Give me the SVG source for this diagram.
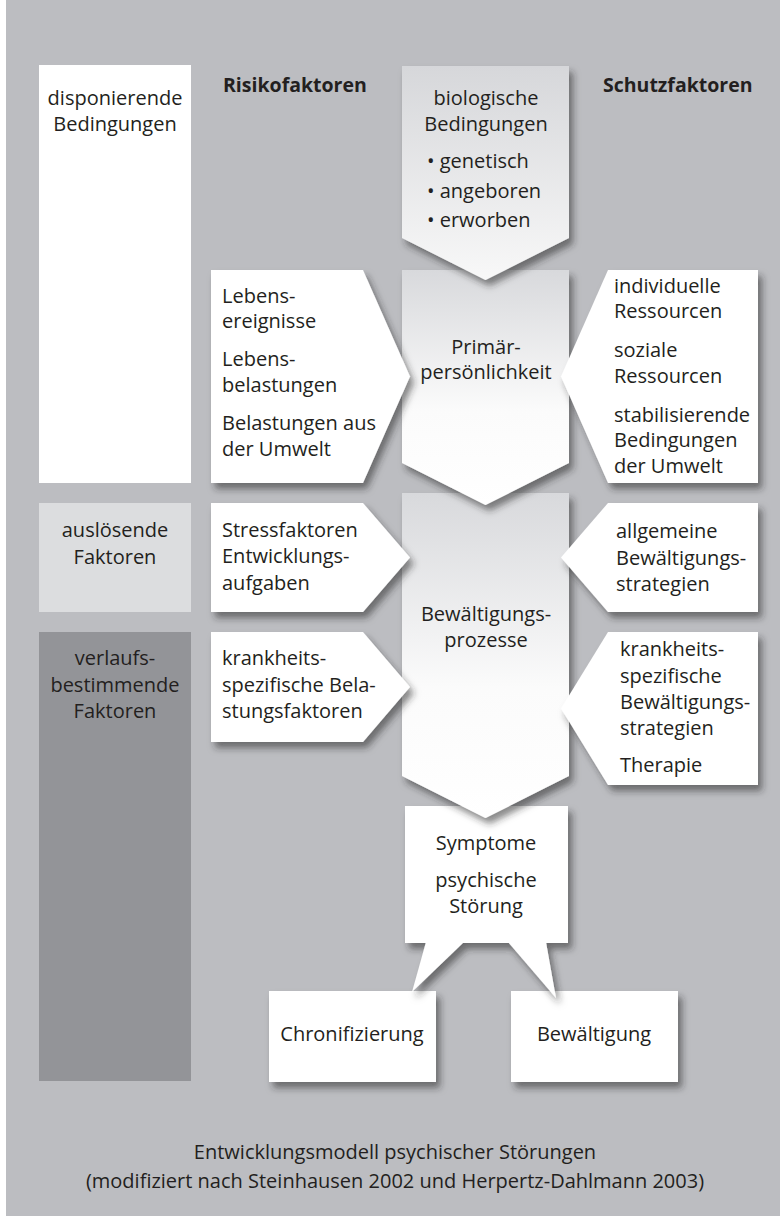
<svg xmlns="http://www.w3.org/2000/svg" width="780" height="1216" viewBox="0 0 780 1216">
<defs>
<style>
text{font-family:"Open Sans","Liberation Sans",sans-serif;font-size:20px;fill:#231F20}
.c{text-anchor:middle}
.h{font-weight:bold;font-size:19.5px}
.w{fill:#FFFFFF}
.sh{filter:url(#sh)}
</style>
<filter id="sh" x="-20%" y="-20%" width="150%" height="150%">
<feDropShadow dx="4" dy="6" stdDeviation="3.5" flood-color="#2a2a2a" flood-opacity="0.55"/>
</filter>
<linearGradient id="gBio" x1="0" y1="0" x2="0" y2="1">
<stop offset="0" stop-color="#D6D7DA"/>
<stop offset="1" stop-color="#F8F8F8"/>
</linearGradient>
<linearGradient id="gMid" x1="0" y1="0" x2="0" y2="1">
<stop offset="0" stop-color="#D8D9DC"/>
<stop offset="0.6" stop-color="#FBFBFB"/>
<stop offset="1" stop-color="#FFFFFF"/>
</linearGradient>
</defs>
<rect x="0" y="0" width="780" height="1216" fill="#FFFFFF"/>
<rect x="6" y="0" width="774" height="1216" fill="#BCBDC1"/>

<g id="node-disponierende">
<rect x="39" y="65" width="152" height="418" fill="#FFFFFF"/>
<text class="c" x="115" y="105">disponierende</text>
<text class="c" x="115" y="131">Bedingungen</text>
</g>
<g id="node-ausloesende">
<rect x="39" y="503" width="152" height="109" fill="#DCDDDF"/>
<text class="c" x="115" y="537">auslösende</text>
<text class="c" x="115" y="564">Faktoren</text>
</g>
<g id="node-verlauf">
<rect x="39" y="632" width="152" height="449" fill="#939498"/>
<text class="c" x="115" y="665">verlaufs-</text>
<text class="c" x="115" y="692">bestimmende</text>
<text class="c" x="115" y="718">Faktoren</text>
</g>
<g id="header-risiko"><text class="h" x="223" y="92">Risikofaktoren</text></g>
<g id="header-schutz"><text class="h" x="603" y="92">Schutzfaktoren</text></g>

<g id="node-chronifizierung">
<rect class="w sh" x="269" y="991" width="167" height="91"/>
<text class="c" x="352" y="1041">Chronifizierung</text>
</g>
<g id="node-bewaeltigung">
<rect class="w sh" x="511" y="991" width="167" height="91"/>
<text class="c" x="594" y="1041">Bewältigung</text>
</g>

<g id="node-symptome">
<g class="sh">
<rect class="w" x="405" y="806" width="163" height="137"/>
<g id="connectors">
<polygon class="w" points="426,942 464,942 412,992"/>
<polygon class="w" points="508,942 546,942 556,998"/>
</g>
</g>
<text class="c" x="486" y="850">Symptome</text>
<text class="c" x="486" y="887">psychische</text>
<text class="c" x="486" y="913">Störung</text>
</g>

<g id="node-bewaeltigungsprozesse">
<polygon class="sh" fill="url(#gMid)" points="402,493 569,493 569,776 485.5,818 402,776"/>
<text class="c" x="486" y="621">Bewältigungs-</text>
<text class="c" x="486" y="647">prozesse</text>
</g>
<g id="node-primaer">
<polygon class="sh" fill="url(#gMid)" points="402,270 569,270 569,463 485.5,505 402,463"/>
<text class="c" x="486" y="354">Primär-</text>
<text class="c" x="486" y="379">persönlichkeit</text>
</g>
<g id="node-biologisch">
<polygon class="sh" fill="url(#gBio)" points="402,66 569,66 569,238 485.5,280 402,238"/>
<text class="c" x="486" y="105">biologische</text>
<text class="c" x="486" y="131">Bedingungen</text>
<text x="427" y="168">• genetisch</text>
<text x="427" y="198">• angeboren</text>
<text x="427" y="227">• erworben</text>
</g>

<g id="node-lebensereignisse">
<polygon class="w sh" points="211,270 363,270 410,376.5 363,483 211,483"/>
<text x="222" y="303">Lebens-</text>
<text x="222" y="328">ereignisse</text>
<text x="222" y="366">Lebens-</text>
<text x="222" y="392">belastungen</text>
<text x="222" y="430">Belastungen aus</text>
<text x="222" y="456">der Umwelt</text>
</g>
<g id="node-stressfaktoren">
<polygon class="w sh" points="211,503 363,503 410,557.5 363,612 211,612"/>
<text x="222" y="537">Stressfaktoren</text>
<text x="222" y="563">Entwicklungs-</text>
<text x="222" y="590">aufgaben</text>
</g>
<g id="node-belastungsfaktoren">
<polygon class="w sh" points="211,632 363,632 410,687 363,742 211,742"/>
<text x="222" y="665">krankheits-</text>
<text x="222" y="692">spezifische Bela-</text>
<text x="222" y="718">stungsfaktoren</text>
</g>

<g id="node-ressourcen">
<polygon class="w sh" points="608,270 758,270 758,483 608,483 561,376.5"/>
<text x="614" y="293">individuelle</text>
<text x="614" y="318">Ressourcen</text>
<text x="614" y="357">soziale</text>
<text x="614" y="383">Ressourcen</text>
<text x="614" y="422">stabilisierende</text>
<text x="614" y="447">Bedingungen</text>
<text x="614" y="473">der Umwelt</text>
</g>
<g id="node-allgemeine">
<polygon class="w sh" points="608,503 758,503 758,612 608,612 561,557.5"/>
<text x="616" y="538">allgemeine</text>
<text x="616" y="565">Bewältigungs-</text>
<text x="616" y="591">strategien</text>
</g>
<g id="node-spezifische">
<polygon class="w sh" points="608,632 758,632 758,785 608,785 561,708.5"/>
<text x="620" y="656">krankheits-</text>
<text x="620" y="683">spezifische</text>
<text x="620" y="709">Bewältigungs-</text>
<text x="620" y="735">strategien</text>
<text x="620" y="772">Therapie</text>
</g>

<g id="caption">
<text class="c" x="395" y="1159">Entwicklungsmodell psychischer Störungen</text>
<text class="c" x="395" y="1188">(modifiziert nach Steinhausen 2002 und Herpertz-Dahlmann 2003)</text>
</g>
</svg>
